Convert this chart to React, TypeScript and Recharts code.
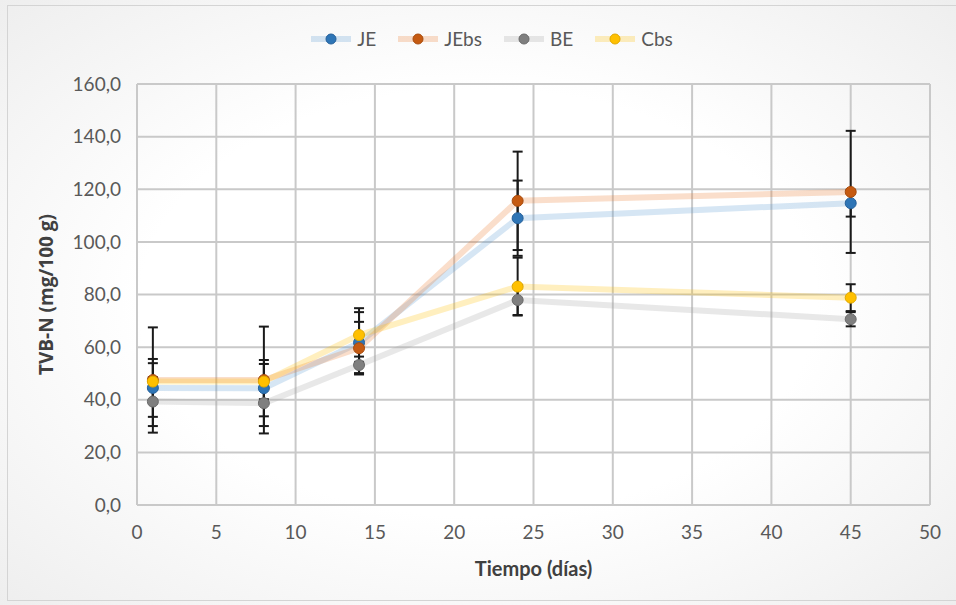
import { LineChart, Line, XAxis, YAxis, CartesianGrid, ErrorBar } from 'recharts'

// días de almacenamiento
const days = [1, 8, 14, 24, 45]

// TVB-N (mg/100 g)
const je = [44.5, 44.4, 61.7, 109.0, 114.7]
const jebs = [47.5, 47.5, 59.6, 115.6, 119.0]
const be = [39.3, 38.7, 53.2, 77.9, 70.6]
const cbs = [46.9, 46.9, 64.6, 83.0, 78.8]

// desviación estándar
const jeErr = [11.0, 10.7, 11.6, 14.3, 5.1]
const jebsErr = [20.0, 20.3, 10.0, 18.7, 23.2]
const beErr = [9.3, 8.7, 3.2, 5.7, 2.7]
const cbsErr = [7.0, 6.7, 10.2, 11.0, 5.1]

const xTicks = [0, 5, 10, 15, 20, 25, 30, 35, 40, 45, 50]
const yTicks = [0, 20, 40, 60, 80, 100, 120, 140, 160]

const series = [
  { key: 'JE', err: 'JEerr', line: '#5b9bd5', dot: '#2e75b6', edge: '#25609a' },
  { key: 'JEbs', err: 'JEbsErr', line: '#ed7d31', dot: '#c55a11', edge: '#a84c0e' },
  { key: 'BE', err: 'BEerr', line: '#a5a5a5', dot: '#7f7f7f', edge: '#6b6b6b' },
  { key: 'Cbs', err: 'CbsErr', line: '#ffc000', dot: '#ffc000', edge: '#e0a800' },
]

const data = days.map((d, i) => ({
  day: d,
  JE: je[i],
  JEbs: jebs[i],
  BE: be[i],
  Cbs: cbs[i],
  JEerr: jeErr[i],
  JEbsErr: jebsErr[i],
  BEerr: beErr[i],
  CbsErr: cbsErr[i],
}))

const FONT = 'Lato, "Open Sans", sans-serif'
const fmt = (v: number) => v.toFixed(1).replace('.', ',')

function LegendRow() {
  return (
    <div
      style={{
        position: 'absolute',
        top: 27,
        left: 0,
        width: 956,
        display: 'flex',
        justifyContent: 'center',
        gap: 22,
        fontFamily: FONT,
        fontSize: 19,
        color: '#595959',
        paddingLeft: 28,
        boxSizing: 'border-box',
      }}
    >
      {series.map(s => (
        <div key={s.key} style={{ display: 'flex', alignItems: 'center', gap: 6 }}>
          <svg width={40} height={20}>
            <line x1={0} y1={10} x2={40} y2={10} stroke={s.line} strokeOpacity={0.25} strokeWidth={6} />
            <circle cx={20} cy={10} r={5} fill={s.dot} stroke={s.edge} strokeWidth={1} />
          </svg>
          <span>{s.key}</span>
        </div>
      ))}
    </div>
  )
}

export default function App() {
  return (
    <div
      style={{
        position: 'absolute',
        left: 0,
        top: 0,
        width: 956,
        height: 605,
        overflow: 'hidden',
        background: 'radial-gradient(ellipse at center, #ffffff 50%, #eeeeee 100%)',
      }}
    >
      <div
        style={{
          position: 'absolute',
          left: 7,
          top: 5,
          width: 960,
          height: 594,
          border: '1px solid #d4d4d4',
        }}
      />
      <LegendRow />
      <div style={{ position: 'absolute', left: 0, top: 0 }}>
        <LineChart width={956} height={605} data={data} margin={{ top: 84, right: 26, left: 0, bottom: 0 }}>
          <CartesianGrid stroke="#c9c9c9" strokeWidth={2} />
          <XAxis
            dataKey="day"
            type="number"
            domain={[0, 50]}
            ticks={xTicks}
            height={100}
            tickLine={false}
            axisLine={false}
            tickMargin={15}
            tick={{ fill: '#595959', fontSize: 19, fontFamily: FONT }}
            label={{
              value: 'Tiempo (días)',
              position: 'insideBottom',
              offset: 29,
              style: { fill: '#404040', fontSize: 20, fontWeight: 700, fontFamily: FONT },
            }}
          />
          <YAxis
            type="number"
            domain={[0, 160]}
            ticks={yTicks}
            width={137}
            tickLine={false}
            axisLine={false}
            tickMargin={10}
            tickFormatter={fmt}
            tick={{ fill: '#595959', fontSize: 19, fontFamily: FONT }}
            label={{
              value: 'TVB-N (mg/100 g)',
              angle: -90,
              position: 'insideLeft',
              offset: 46,
              style: { textAnchor: 'middle', fill: '#404040', fontSize: 19, fontWeight: 700, fontFamily: '"Open Sans", sans-serif' },
            }}
          />
          {series.map(s => (
            <Line
              key={s.key + '-line'}
              dataKey={s.key}
              stroke={s.line}
              strokeOpacity={0.25}
              strokeWidth={6}
              dot={false}
              activeDot={false}
              isAnimationActive={false}
            />
          ))}
          {series.map(s => (
            <Line
              key={s.key + '-err'}
              dataKey={s.key}
              stroke="none"
              dot={false}
              activeDot={false}
              legendType="none"
              isAnimationActive={false}
            >
              <ErrorBar dataKey={s.err} direction="y" width={5} stroke="#1a1a1a" strokeWidth={2} />
            </Line>
          ))}
          {series.map(s => (
            <Line
              key={s.key + '-dot'}
              dataKey={s.key}
              stroke="none"
              dot={{ r: 5.5, fill: s.dot, stroke: s.edge, strokeWidth: 1 }}
              activeDot={false}
              legendType="none"
              isAnimationActive={false}
            />
          ))}
        </LineChart>
      </div>
    </div>
  )
}
